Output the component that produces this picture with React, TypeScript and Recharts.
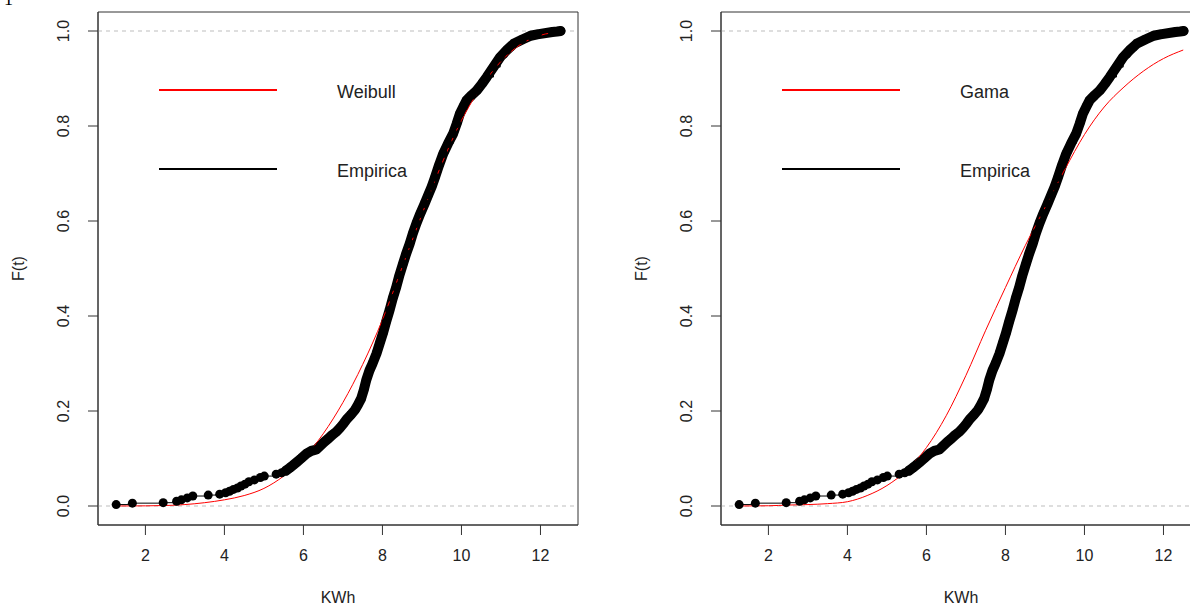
import React from 'react'
import { LineChart, Line, XAxis, YAxis, ReferenceLine, ReferenceArea, Legend } from 'recharts'

const xTicks = [2, 4, 6, 8, 10, 12]
const yTicks = [0, 0.2, 0.4, 0.6, 0.8, 1.0]

const empX = [
  1.26, 1.67, 2.45, 2.79, 2.91, 3.06, 3.2, 3.59, 3.88, 4.03, 4.13, 4.23, 4.33, 4.42, 4.52, 4.62,
  4.76, 4.91, 5.01, 5.31, 5.45, 5.55, 5.65, 5.74, 5.84, 5.94, 6.09, 6.2, 6.33, 6.43, 6.53, 6.63,
  6.72, 6.83, 6.92, 7.02, 7.11, 7.21, 7.31, 7.38, 7.46, 7.53, 7.59, 7.67, 7.75, 7.85, 7.93, 8.01,
  8.09, 8.18, 8.26, 8.35, 8.43, 8.52, 8.6, 8.69, 8.77, 8.86, 8.96, 9.07, 9.16, 9.25, 9.33, 9.43,
  9.54, 9.66, 9.79, 9.88, 9.96, 10.05, 10.13, 10.26, 10.39, 10.52, 10.64, 10.81, 10.98, 11.15,
  11.32, 11.54, 11.75, 11.92, 12.3, 12.42, 12.51,
]
const empF = [
  0.003, 0.006, 0.007, 0.01, 0.013, 0.017, 0.021, 0.023, 0.025, 0.028, 0.031, 0.035, 0.038, 0.042,
  0.046, 0.051, 0.055, 0.06, 0.063, 0.067, 0.07, 0.074, 0.08, 0.086, 0.093, 0.1, 0.111, 0.116,
  0.119, 0.127, 0.135, 0.142, 0.149, 0.156, 0.164, 0.174, 0.184, 0.193, 0.203, 0.213, 0.226,
  0.245, 0.265, 0.285, 0.3, 0.321, 0.342, 0.363, 0.387, 0.412, 0.437, 0.461, 0.486, 0.51, 0.531,
  0.552, 0.574, 0.595, 0.616, 0.637, 0.655, 0.673, 0.692, 0.717, 0.742, 0.763, 0.784, 0.805,
  0.826, 0.841, 0.854, 0.865, 0.875, 0.889, 0.903, 0.924, 0.945, 0.96, 0.973, 0.982, 0.99, 0.993,
  0.998, 0.999, 1.0,
]

// fitted curves
const fitX = [1.25, 2, 2.5, 3, 3.5, 4, 4.5, 5, 5.5, 6, 6.5, 7, 7.5, 8, 8.5, 9, 9.5, 10, 10.5, 11, 11.5, 12, 12.5]
const weibullF = [
  0, 0.0003, 0.001, 0.003, 0.007, 0.013, 0.022, 0.037, 0.063, 0.1, 0.152, 0.218, 0.298, 0.392,
  0.503, 0.614, 0.72, 0.812, 0.882, 0.936, 0.972, 0.991, 0.998,
]
const gamaF = [
  0, 0.0005, 0.002, 0.003, 0.005, 0.009, 0.022, 0.043, 0.075, 0.123, 0.19, 0.275, 0.37, 0.46,
  0.548, 0.628, 0.708, 0.782, 0.84, 0.882, 0.916, 0.942, 0.96,
]

const FONT = '"Liberation Sans", Arial, sans-serif'
const TXT = '#222'

const empData = empX.map((x, i) => ({ x, F: empF[i] }))
const denseData = empData.filter((d) => d.x >= 5.5)

const XTick = (props: any) => {
  const { x, y, payload } = props
  return (
    <text x={x} y={y + 18} textAnchor="middle" dominantBaseline="central" fontSize={16} fontFamily={FONT} fill={TXT}>
      {payload.value}
    </text>
  )
}

const YTick = (props: any) => {
  const { x, y, payload } = props
  const cx = x - 23
  return (
    <text
      x={cx}
      y={y}
      transform={`rotate(-90 ${cx} ${y})`}
      textAnchor="middle"
      dominantBaseline="central"
      fontSize={16}
      fontFamily={FONT}
      fill={TXT}
    >
      {Number(payload.value).toFixed(1)}
    </text>
  )
}

function LegendBox({ fitName }: { fitName: string }) {
  const row = (top: number, color: string, w: number, label: string) => (
    <div style={{ position: 'absolute', left: 0, top, width: 320, height: 20 }}>
      <div style={{ position: 'absolute', left: 0, top: 10 - w / 2, width: 118, height: w, background: color }} />
      <div
        style={{ position: 'absolute', left: 178, top: 2, lineHeight: '20px', fontSize: 18, fontFamily: FONT, color: TXT }}
      >
        {label}
      </div>
    </div>
  )
  return (
    <div style={{ position: 'relative', width: 320, height: 110 }}>
      {row(0, '#ff0000', 2, fitName)}
      {row(79, '#000', 2.5, 'Empirica')}
    </div>
  )
}

function CdfPanel({ fitF, fitName }: { fitF: number[]; fitName: string }) {
  const fitData = fitX.map((x, i) => ({ x, F: fitF[i] }))
  return (
    <LineChart width={600} height={605} margin={{ top: 12, right: 22, bottom: 30, left: 0 }}>
      <XAxis
        dataKey="x"
        type="number"
        domain={[0.8, 12.95]}
        allowDataOverflow
        ticks={xTicks}
        tick={<XTick />}
        tickSize={10}
        height={50}
        stroke="#333"
        label={{
          content: (p: any) => (
            <text
              x={p.viewBox.x + p.viewBox.width / 2}
              y={597}
              textAnchor="middle"
              dominantBaseline="central"
              fontSize={16}
              fontFamily={FONT}
              fill={TXT}
            >
              KWh
            </text>
          ),
        }}
      />
      <YAxis
        dataKey="F"
        type="number"
        domain={[-0.04, 1.04]}
        allowDataOverflow
        ticks={yTicks}
        tick={<YTick />}
        tickSize={10}
        width={98}
        stroke="#333"
        label={{
          content: (p: any) => {
            const cy = p.viewBox.y + p.viewBox.height / 2
            return (
              <text
                x={18}
                y={cy}
                transform={`rotate(-90 18 ${cy})`}
                textAnchor="middle"
                dominantBaseline="central"
                fontSize={16}
                fontFamily={FONT}
                fill={TXT}
              >
                F(t)
              </text>
            )
          },
        }}
      />
      <ReferenceArea x1={0.8} x2={12.95} y1={-0.04} y2={1.04} fill="none" stroke="#333" strokeWidth={1} />
      <ReferenceLine y={0} stroke="#bdbdbd" strokeDasharray="4 4" />
      <ReferenceLine y={1} stroke="#bdbdbd" strokeDasharray="4 4" />
      <Line
        data={denseData}
        dataKey="F"
        type="linear"
        stroke="#000"
        strokeWidth={10}
        strokeLinejoin="round"
        strokeLinecap="round"
        dot={false}
        isAnimationActive={false}
        legendType="none"
      />
      <Line
        data={empData}
        dataKey="F"
        name="Empirica"
        type="stepAfter"
        stroke="#000"
        strokeWidth={1}
        dot={{ r: 4.5, fill: '#000', stroke: 'none' }}
        isAnimationActive={false}
      />
      <Line
        data={fitData}
        dataKey="F"
        name={fitName}
        type="monotone"
        stroke="#ff0000"
        strokeWidth={1}
        dot={false}
        isAnimationActive={false}
      />
      <Legend
        layout="horizontal"
        verticalAlign="middle"
        align="center"
        wrapperStyle={{ position: 'absolute', left: 159, top: 80, width: 320 }}
        content={() => <LegendBox fitName={fitName} />}
      />
    </LineChart>
  )
}

export default function App() {
  return (
    <div style={{ position: 'relative', width: 1190, height: 605, overflow: 'hidden', background: '#fff' }}>
      <style>{'body{margin:0}'}</style>
      <div style={{ position: 'absolute', left: 4, top: -11, fontFamily: '"Liberation Serif", serif', fontSize: 18 }}>
        1
      </div>
      <div style={{ position: 'absolute', left: 0, top: 0 }}>
        <CdfPanel fitF={weibullF} fitName="Weibull" />
      </div>
      <div style={{ position: 'absolute', left: 623, top: 0 }}>
        <CdfPanel fitF={gamaF} fitName="Gama" />
      </div>
    </div>
  )
}
